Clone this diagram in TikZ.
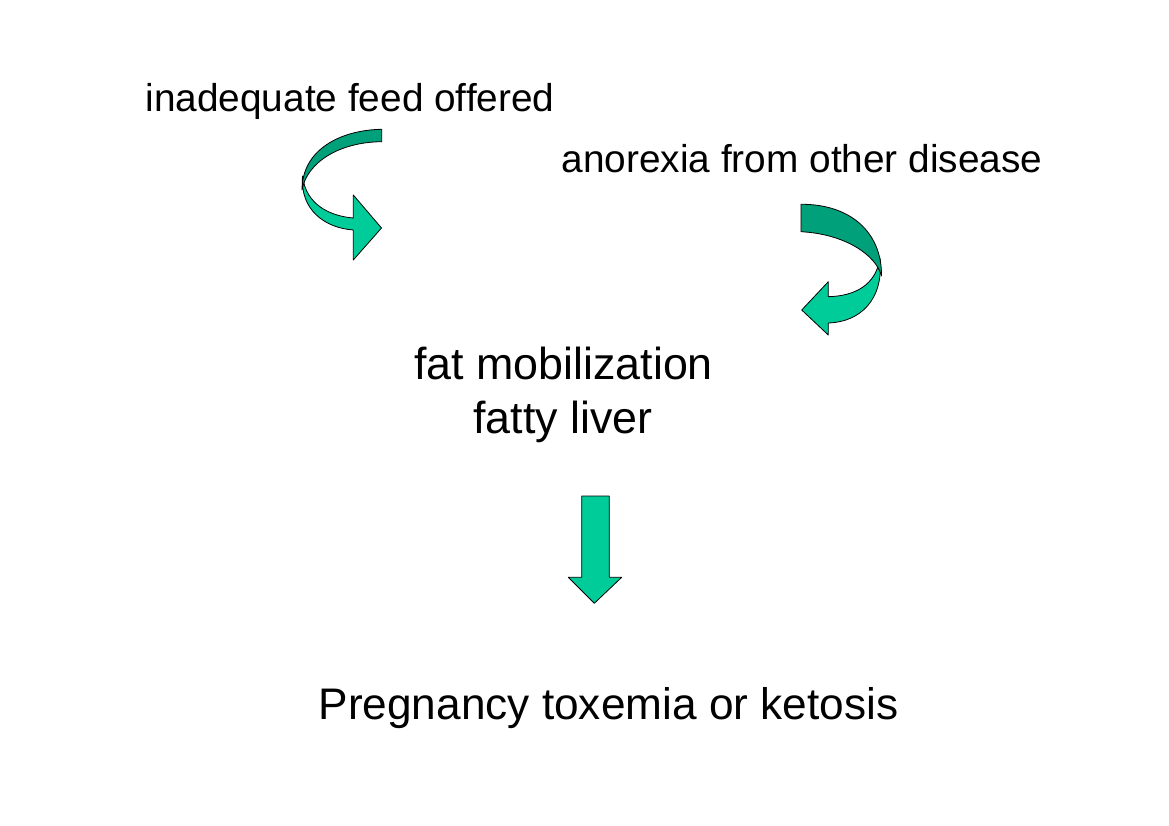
\documentclass[tikz,border=0pt]{standalone}
\usepackage{fontspec}
\setmainfont{Liberation Sans}
\definecolor{arrowlight}{RGB}{0,204,153}
\definecolor{arrowdark}{RGB}{0,160,122}
\tikzset{
  frontband/.style={fill=arrowlight,draw=black,line width=0.8pt,line join=round},
  backband/.style={fill=arrowdark,draw=black,line width=0.8pt,line join=round},
  smalltext/.style={anchor=base,inner sep=0pt,font=\fontsize{38.8}{46}\selectfont},
  bigtext/.style={anchor=base,inner sep=0pt,font=\fontsize{44.8}{54}\selectfont}
}
\begin{document}
\begin{tikzpicture}[x=1pt,y=-1pt]
\useasboundingbox (0,0) rectangle (1169,826);
\fill[white] (0,0) rectangle (1169,826);
\node[smalltext] (feed) at (350,111.7) {inadequate feed offered};
\node[smalltext] (anorexia) at (802,172.3) {anorexia from other disease};
\node[bigtext] (fat) at (563.5,379) {fat mobilization};
\node[bigtext] (liver) at (563,433) {fatty liver};
\node[bigtext,font=\fontsize{44.2}{54}\selectfont] (toxemia) at (608.5,719.5) {Pregnancy toxemia or ketosis};
\draw[frontband] (302.5,176) .. controls (300,210) and (325,228) .. (353.3,230) -- (353.3,260) -- (381.5,228) -- (353.3,195) -- (353.3,218) .. controls (330,216) and (306,205) .. (302.5,176) -- cycle;
\draw[backband] (381.7,129.3) .. controls (340,130) and (302,150) .. (302,190) .. controls (307,162) and (340,142) .. (381.7,141.7) -- cycle;
\draw[frontband] (880,258) .. controls (884,300) and (860,322) .. (828.3,323) -- (828.3,335) -- (801.7,310) -- (828.3,281.7) -- (828.3,296.7) .. controls (855,296) and (876,285) .. (880,258) -- cycle;
\draw[backband] (801,204.3) .. controls (850,204) and (882,232) .. (881.5,276) .. controls (876,255) and (845,234) .. (801,231.7) -- cycle;
\draw[frontband] (581.7,496) -- (609.3,496) -- (609.3,577.3) -- (621.7,577.3) -- (594.3,603.3) -- (568.3,577.3) -- (581.7,577.3) -- cycle;
\end{tikzpicture}
\end{document}
